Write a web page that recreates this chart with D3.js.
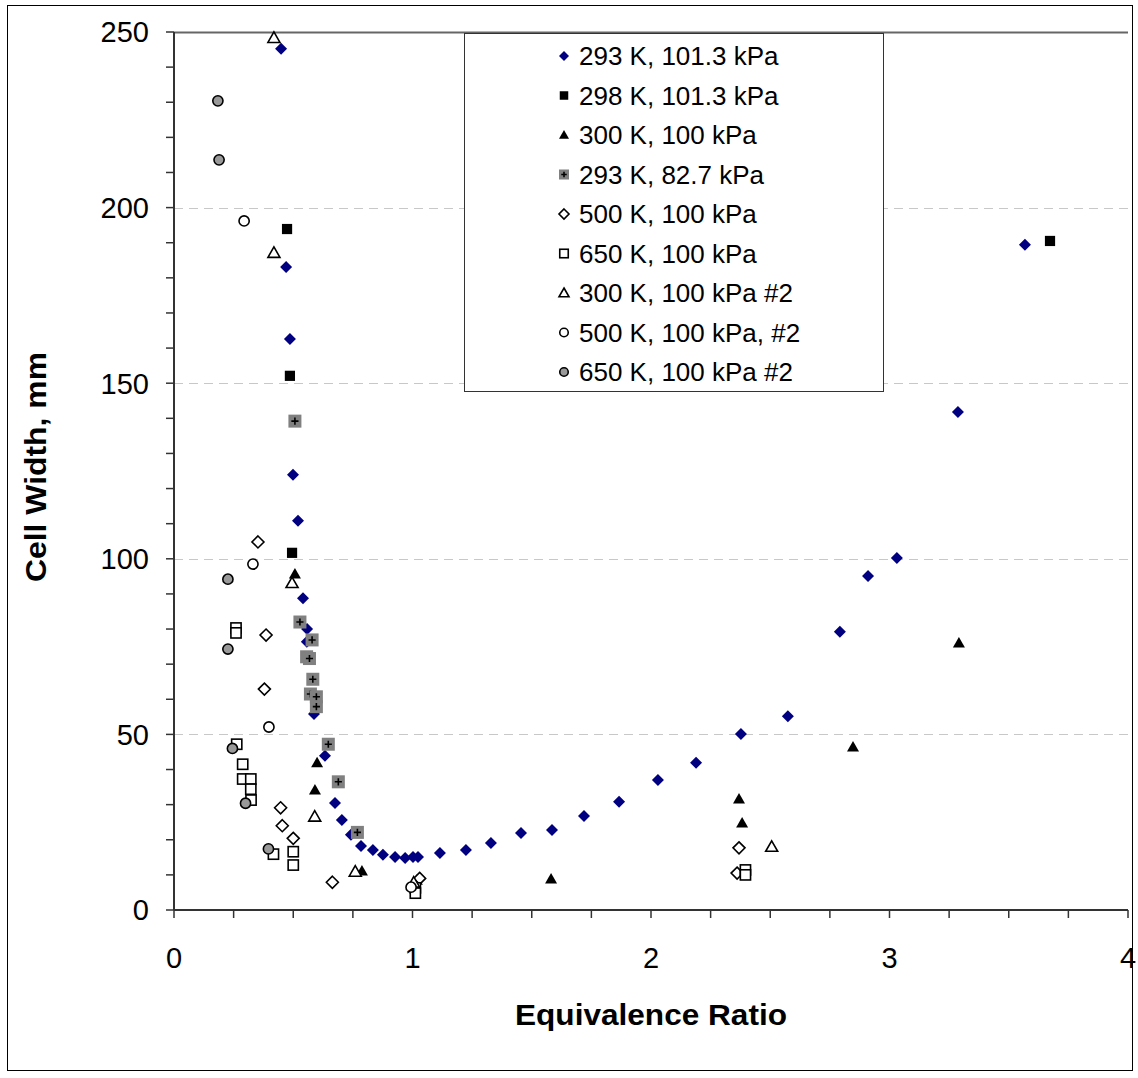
<!DOCTYPE html>
<html>
<head>
<meta charset="utf-8">
<script src="https://cdn.jsdelivr.net/npm/d3@7"></script>
<style>
  html, body { margin: 0; padding: 0; background: #fff; }
  svg { display: block; }
  text { font-family: "Liberation Sans", Arial, sans-serif; fill: #000; }
</style>
</head>
<body>
<svg id="chart" width="1138" height="1078"></svg>
<script>
// Detonation cell width vs. equivalence ratio, one array of [phi, width] per data set
const s293k101 = [
  [0.449, 245.2], [0.470, 183.1], [0.486, 162.6], [0.499, 123.9], [0.520, 110.8],
  [0.541, 88.8], [0.558, 80.0], [0.557, 76.4], [0.587, 55.8], [0.633, 43.9],
  [0.675, 30.5], [0.704, 25.6], [0.742, 21.4], [0.784, 18.2], [0.834, 17.1],
  [0.876, 15.7], [0.927, 15.1], [0.969, 14.8], [1.002, 15.1], [1.023, 15.1],
  [1.115, 16.2], [1.224, 17.1], [1.329, 19.1], [1.455, 21.9], [1.585, 22.8],
  [1.719, 26.8], [1.866, 30.8], [2.029, 37.0], [2.189, 41.9], [2.377, 50.1],
  [2.574, 55.2], [2.792, 79.2], [2.910, 95.1], [3.031, 100.2], [3.287, 141.8],
  [3.568, 189.4]
];
const s298k101 = [[0.474, 193.9], [0.486, 152.1], [0.495, 101.7], [3.673, 190.5]];
const s300k100 = [
  [0.507, 95.7], [0.600, 41.9], [0.591, 34.2], [0.788, 11.1], [1.018, 8.5],
  [1.581, 8.8], [2.369, 31.6], [2.382, 24.8], [2.847, 46.4], [3.291, 76.0]
];
const s293k83 = [
  [0.507, 139.2], [0.528, 82.0], [0.579, 76.9], [0.556, 72.1], [0.568, 71.6],
  [0.582, 65.7], [0.572, 61.5], [0.597, 60.7], [0.597, 57.9], [0.647, 47.2],
  [0.689, 36.5], [0.769, 22.1]
];
const s500k100 = [
  [0.352, 104.8], [0.386, 78.3], [0.379, 62.9], [0.447, 29.1], [0.454, 24.0],
  [0.500, 20.4], [0.664, 7.9], [1.030, 9.0], [2.369, 17.7], [2.361, 10.5]
];
const s650k100 = [
  [0.260, 80.3], [0.260, 78.9], [0.263, 47.2], [0.288, 41.5], [0.288, 37.3],
  [0.322, 37.3], [0.322, 34.4], [0.323, 31.3], [0.417, 15.9], [0.500, 16.6],
  [0.500, 12.8], [1.012, 6.3], [1.012, 4.8], [2.396, 11.4], [2.396, 10.0]
];
const s300k100b = [
  [0.419, 248.3], [0.419, 187.1], [0.495, 93.1], [0.590, 26.6], [0.760, 10.9],
  [1.005, 7.8], [2.506, 18.0]
];
const s500k100b = [[0.294, 196.2], [0.331, 98.5], [0.398, 52.1], [0.994, 6.5]];
const s650k100b = [
  [0.184, 230.4], [0.189, 213.6], [0.226, 94.2], [0.226, 74.3], [0.245, 46.0],
  [0.300, 30.4], [0.396, 17.4]
];

const seriesNames = [
  "293 K, 101.3 kPa", "298 K, 101.3 kPa", "300 K, 100 kPa", "293 K, 82.7 kPa",
  "500 K, 100 kPa", "650 K, 100 kPa", "300 K, 100 kPa #2", "500 K, 100 kPa, #2",
  "650 K, 100 kPa #2"
];
const xTicks = [0, 1, 2, 3, 4];
const yTicks = [0, 50, 100, 150, 200, 250];
const xTitle = "Equivalence Ratio";
const yTitle = "Cell Width, mm";

// Marker styles, in the same order as the names above
const seriesData = [s293k101, s298k101, s300k100, s293k83, s500k100, s650k100, s300k100b, s500k100b, s650k100b];
const markerStyles = [
  { shape: "diamond", fill: "#000080", stroke: "none" },
  { shape: "square", fill: "#000", stroke: "none" },
  { shape: "triangle", fill: "#000", stroke: "none" },
  { shape: "plus", fill: "#808080", stroke: "none" },
  { shape: "diamond", fill: "#fff", stroke: "#000" },
  { shape: "square", fill: "#fff", stroke: "#000" },
  { shape: "triangle", fill: "#fff", stroke: "#000" },
  { shape: "circle", fill: "#fff", stroke: "#000" },
  { shape: "circle", fill: "#999", stroke: "#000" }
];

const svg = d3.select("#chart");
const plot = { left: 174, right: 1128, top: 32, bottom: 910 };

const x = d3.scaleLinear().domain([0, 4]).range([plot.left, plot.right]);
const y = d3.scaleLinear().domain([0, 250]).range([plot.bottom, plot.top]);

// outer frame
svg.append("rect")
  .attr("x", 7.5).attr("y", 5.5).attr("width", 1125).attr("height", 1065)
  .attr("fill", "none").attr("stroke", "#000").attr("stroke-width", 1);

// horizontal gridlines
svg.append("g").selectAll("line")
  .data(yTicks.filter(d => d > 0))
  .join("line")
  .attr("x1", plot.left).attr("x2", plot.right)
  .attr("y1", d => Math.round(y(d)) + 0.5).attr("y2", d => Math.round(y(d)) + 0.5)
  .attr("stroke", d => d === 250 ? "#666" : "#c8c8c8")
  .attr("stroke-width", d => d === 250 ? 2 : 1)
  .attr("stroke-dasharray", d => d === 250 ? "none" : "9,6");

// y axis with minor ticks every 10
const yAxis = svg.append("g").attr("transform", `translate(${plot.left},0)`);
yAxis.append("line")
  .attr("x1", 0).attr("x2", 0).attr("y1", plot.top).attr("y2", plot.bottom)
  .attr("stroke", "#333").attr("stroke-width", 2);
yAxis.selectAll("line.tick")
  .data(d3.range(0, 251, 10))
  .join("line").attr("class", "tick")
  .attr("x1", -8).attr("x2", 0)
  .attr("y1", d => y(d)).attr("y2", d => y(d))
  .attr("stroke", "#333").attr("stroke-width", 1.5);
yAxis.selectAll("text")
  .data(yTicks)
  .join("text")
  .attr("x", -25).attr("y", d => y(d))
  .attr("dy", "0.36em")
  .attr("text-anchor", "end")
  .attr("font-size", 29)
  .text(d => d);

// x axis with minor ticks every 0.25
const xAxis = svg.append("g").attr("transform", `translate(0,${plot.bottom})`);
xAxis.append("line")
  .attr("x1", plot.left).attr("x2", plot.right).attr("y1", 0).attr("y2", 0)
  .attr("stroke", "#333").attr("stroke-width", 2);
xAxis.selectAll("line.tick")
  .data(d3.range(0, 4.001, 0.25))
  .join("line").attr("class", "tick")
  .attr("x1", d => x(d)).attr("x2", d => x(d))
  .attr("y1", 0).attr("y2", 8)
  .attr("stroke", "#333").attr("stroke-width", 1.5);
xAxis.selectAll("text")
  .data(xTicks)
  .join("text")
  .attr("x", d => x(d)).attr("y", 58)
  .attr("text-anchor", "middle")
  .attr("font-size", 29)
  .text(d => d);

// axis titles
svg.append("text")
  .attr("x", 651).attr("y", 1025)
  .attr("text-anchor", "middle")
  .attr("font-size", 30).attr("font-weight", "bold")
  .attr("textLength", 272).attr("lengthAdjust", "spacingAndGlyphs")
  .text(xTitle);
svg.append("text")
  .attr("transform", "translate(46,467) rotate(-90)")
  .attr("text-anchor", "middle")
  .attr("font-size", 29).attr("font-weight", "bold")
  .attr("textLength", 230).attr("lengthAdjust", "spacingAndGlyphs")
  .text(yTitle);

// marker drawing
function drawMarker(g, style, size) {
  const h = size / 2;
  if (style.shape === "diamond") {
    g.append("path").attr("d", `M0,${-h}L${h},0L0,${h}L${-h},0Z`)
      .attr("fill", style.fill).attr("stroke", style.stroke).attr("stroke-width", 1.6);
  } else if (style.shape === "square") {
    const s = h * 0.85;
    g.append("rect").attr("x", -s).attr("y", -s).attr("width", 2 * s).attr("height", 2 * s)
      .attr("fill", style.fill).attr("stroke", style.stroke).attr("stroke-width", 1.6);
  } else if (style.shape === "triangle") {
    g.append("path").attr("d", `M0,${-h}L${h},${h * 0.75}L${-h},${h * 0.75}Z`)
      .attr("fill", style.fill).attr("stroke", style.stroke).attr("stroke-width", 1.6);
  } else if (style.shape === "circle") {
    g.append("circle").attr("r", h * 0.85)
      .attr("fill", style.fill).attr("stroke", style.stroke).attr("stroke-width", 1.6);
  } else if (style.shape === "plus") {
    g.append("rect").attr("x", -h).attr("y", -h).attr("width", size).attr("height", size)
      .attr("fill", style.fill);
    const p = h * 0.55;
    g.append("path").attr("d", `M${-p},0H${p}M0,${-p}V${p}`)
      .attr("stroke", "#000").attr("stroke-width", 1.6);
  }
}

// data points
const markers = svg.append("g");
seriesData.forEach((pts, i) => {
  const st = markerStyles[i];
  const size = st.shape === "plus" ? 13 : 12;
  markers.append("g").selectAll("g")
    .data(pts)
    .join("g")
    .attr("transform", d => `translate(${x(d[0])},${y(d[1])})`)
    .each(function () { drawMarker(d3.select(this), st, size); });
});

// legend
const legend = svg.append("g");
legend.append("rect")
  .attr("x", 464.5).attr("y", 33.5).attr("width", 419).attr("height", 358)
  .attr("fill", "#fff").attr("stroke", "#333").attr("stroke-width", 1);
seriesNames.forEach((name, i) => {
  const yy = 56 + i * 39.5;
  const g = legend.append("g").attr("transform", `translate(564,${yy})`);
  drawMarker(g, markerStyles[i], 10);
  legend.append("text")
    .attr("x", 579).attr("y", yy).attr("dy", "0.36em")
    .attr("font-size", 26)
    .text(name);
});
</script>
</body>
</html>
